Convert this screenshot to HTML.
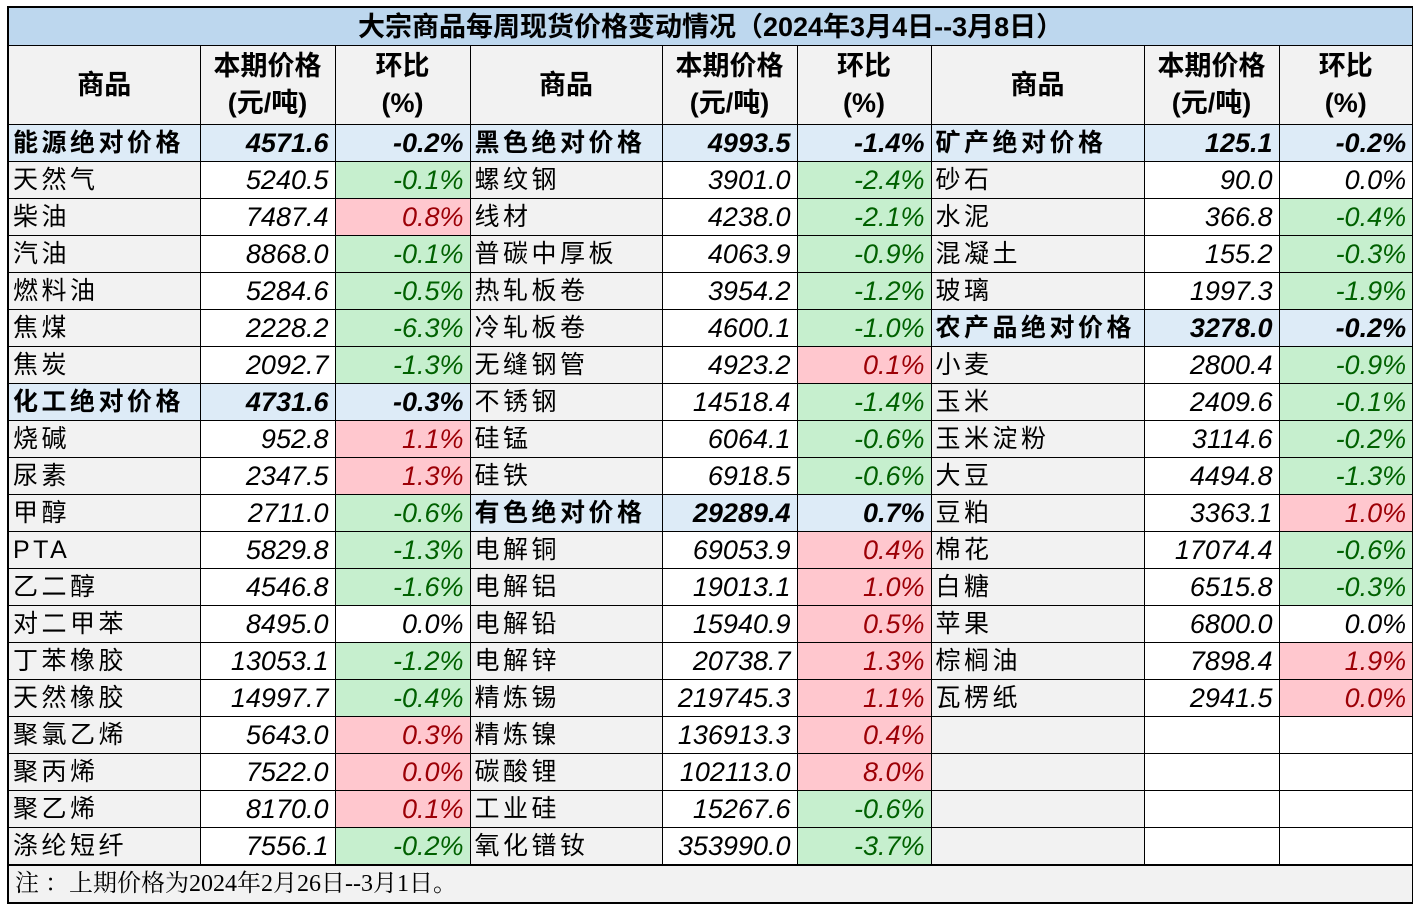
<!DOCTYPE html>
<html><head><meta charset="utf-8"><style>
body{margin:0;background:#fff;width:1413px;height:907px;overflow:hidden;position:relative;font-family:"Liberation Sans","Noto Sans CJK SC",sans-serif;}
table{position:absolute;left:7px;top:6px;border-collapse:collapse;table-layout:fixed;width:1405px;border:2px solid #000;}
td{border:1px solid #000;padding:0 6px;height:36px;font-size:24px;white-space:nowrap;overflow:hidden;line-height:36px;}
.t{background:#BDD7EE;font-weight:bold;text-align:center;height:37px;font-size:27px;}
.h td{background:#F2F2F2;font-weight:bold;text-align:center;height:78px;line-height:37px;font-size:27px;}
td.n{background:#F2F2F2;text-align:left;padding-left:4px;font-size:25px;letter-spacing:3.5px;}
td.p{text-align:right;font-style:italic;font-size:27px;background:#fff;}
td.v{text-align:right;font-style:italic;font-size:27px;background:#fff;}
.g{background:#C6EFCE!important;color:#006100;}
.r{background:#FFC7CE!important;color:#9C0006;}
tr td.c{background:#DDEBF7;font-weight:bold;}
.f{background:#F2F2F2;font-family:"Liberation Serif","Noto Serif CJK SC",serif;font-size:24px;border-top:2px solid #000;}
</style></head><body>
<table>
<colgroup><col style="width:192px"><col style="width:135px"><col style="width:135px"><col style="width:192px"><col style="width:135px"><col style="width:134px"><col style="width:213px"><col style="width:135px"><col style="width:134px"></colgroup>
<tr><td class="t" colspan="9">大宗商品每周现货价格变动情况（2024年3月4日--3月8日）</td></tr>
<tr class="h"><td>商品</td><td>本期价格<br>(元/吨)</td><td>环比<br>(%)</td><td>商品</td><td>本期价格<br>(元/吨)</td><td>环比<br>(%)</td><td>商品</td><td>本期价格<br>(元/吨)</td><td>环比<br>(%)</td></tr>
<tr><td class="n c">能源绝对价格</td><td class="p c">4571.6</td><td class="v c">-0.2%</td><td class="n c">黑色绝对价格</td><td class="p c">4993.5</td><td class="v c">-1.4%</td><td class="n c">矿产绝对价格</td><td class="p c">125.1</td><td class="v c">-0.2%</td></tr>
<tr><td class="n">天然气</td><td class="p">5240.5</td><td class="v g">-0.1%</td><td class="n">螺纹钢</td><td class="p">3901.0</td><td class="v g">-2.4%</td><td class="n">砂石</td><td class="p">90.0</td><td class="v">0.0%</td></tr>
<tr><td class="n">柴油</td><td class="p">7487.4</td><td class="v r">0.8%</td><td class="n">线材</td><td class="p">4238.0</td><td class="v g">-2.1%</td><td class="n">水泥</td><td class="p">366.8</td><td class="v g">-0.4%</td></tr>
<tr><td class="n">汽油</td><td class="p">8868.0</td><td class="v g">-0.1%</td><td class="n">普碳中厚板</td><td class="p">4063.9</td><td class="v g">-0.9%</td><td class="n">混凝土</td><td class="p">155.2</td><td class="v g">-0.3%</td></tr>
<tr><td class="n">燃料油</td><td class="p">5284.6</td><td class="v g">-0.5%</td><td class="n">热轧板卷</td><td class="p">3954.2</td><td class="v g">-1.2%</td><td class="n">玻璃</td><td class="p">1997.3</td><td class="v g">-1.9%</td></tr>
<tr><td class="n">焦煤</td><td class="p">2228.2</td><td class="v g">-6.3%</td><td class="n">冷轧板卷</td><td class="p">4600.1</td><td class="v g">-1.0%</td><td class="n c">农产品绝对价格</td><td class="p c">3278.0</td><td class="v c">-0.2%</td></tr>
<tr><td class="n">焦炭</td><td class="p">2092.7</td><td class="v g">-1.3%</td><td class="n">无缝钢管</td><td class="p">4923.2</td><td class="v r">0.1%</td><td class="n">小麦</td><td class="p">2800.4</td><td class="v g">-0.9%</td></tr>
<tr><td class="n c">化工绝对价格</td><td class="p c">4731.6</td><td class="v c">-0.3%</td><td class="n">不锈钢</td><td class="p">14518.4</td><td class="v g">-1.4%</td><td class="n">玉米</td><td class="p">2409.6</td><td class="v g">-0.1%</td></tr>
<tr><td class="n">烧碱</td><td class="p">952.8</td><td class="v r">1.1%</td><td class="n">硅锰</td><td class="p">6064.1</td><td class="v g">-0.6%</td><td class="n">玉米淀粉</td><td class="p">3114.6</td><td class="v g">-0.2%</td></tr>
<tr><td class="n">尿素</td><td class="p">2347.5</td><td class="v r">1.3%</td><td class="n">硅铁</td><td class="p">6918.5</td><td class="v g">-0.6%</td><td class="n">大豆</td><td class="p">4494.8</td><td class="v g">-1.3%</td></tr>
<tr><td class="n">甲醇</td><td class="p">2711.0</td><td class="v g">-0.6%</td><td class="n c">有色绝对价格</td><td class="p c">29289.4</td><td class="v c">0.7%</td><td class="n">豆粕</td><td class="p">3363.1</td><td class="v r">1.0%</td></tr>
<tr><td class="n">PTA</td><td class="p">5829.8</td><td class="v g">-1.3%</td><td class="n">电解铜</td><td class="p">69053.9</td><td class="v r">0.4%</td><td class="n">棉花</td><td class="p">17074.4</td><td class="v g">-0.6%</td></tr>
<tr><td class="n">乙二醇</td><td class="p">4546.8</td><td class="v g">-1.6%</td><td class="n">电解铝</td><td class="p">19013.1</td><td class="v r">1.0%</td><td class="n">白糖</td><td class="p">6515.8</td><td class="v g">-0.3%</td></tr>
<tr><td class="n">对二甲苯</td><td class="p">8495.0</td><td class="v">0.0%</td><td class="n">电解铅</td><td class="p">15940.9</td><td class="v r">0.5%</td><td class="n">苹果</td><td class="p">6800.0</td><td class="v">0.0%</td></tr>
<tr><td class="n">丁苯橡胶</td><td class="p">13053.1</td><td class="v g">-1.2%</td><td class="n">电解锌</td><td class="p">20738.7</td><td class="v r">1.3%</td><td class="n">棕榈油</td><td class="p">7898.4</td><td class="v r">1.9%</td></tr>
<tr><td class="n">天然橡胶</td><td class="p">14997.7</td><td class="v g">-0.4%</td><td class="n">精炼锡</td><td class="p">219745.3</td><td class="v r">1.1%</td><td class="n">瓦楞纸</td><td class="p">2941.5</td><td class="v r">0.0%</td></tr>
<tr><td class="n">聚氯乙烯</td><td class="p">5643.0</td><td class="v r">0.3%</td><td class="n">精炼镍</td><td class="p">136913.3</td><td class="v r">0.4%</td><td class="n"></td><td class="p"></td><td class="v"></td></tr>
<tr><td class="n">聚丙烯</td><td class="p">7522.0</td><td class="v r">0.0%</td><td class="n">碳酸锂</td><td class="p">102113.0</td><td class="v r">8.0%</td><td class="n"></td><td class="p"></td><td class="v"></td></tr>
<tr><td class="n">聚乙烯</td><td class="p">8170.0</td><td class="v r">0.1%</td><td class="n">工业硅</td><td class="p">15267.6</td><td class="v g">-0.6%</td><td class="n"></td><td class="p"></td><td class="v"></td></tr>
<tr><td class="n">涤纶短纤</td><td class="p">7556.1</td><td class="v g">-0.2%</td><td class="n">氧化镨钕</td><td class="p">353990.0</td><td class="v g">-3.7%</td><td class="n"></td><td class="p"></td><td class="v"></td></tr>
<tr><td class="f" colspan="9">注 ：上期价格为2024年2月26日--3月1日。</td></tr>
</table>
</body></html>
